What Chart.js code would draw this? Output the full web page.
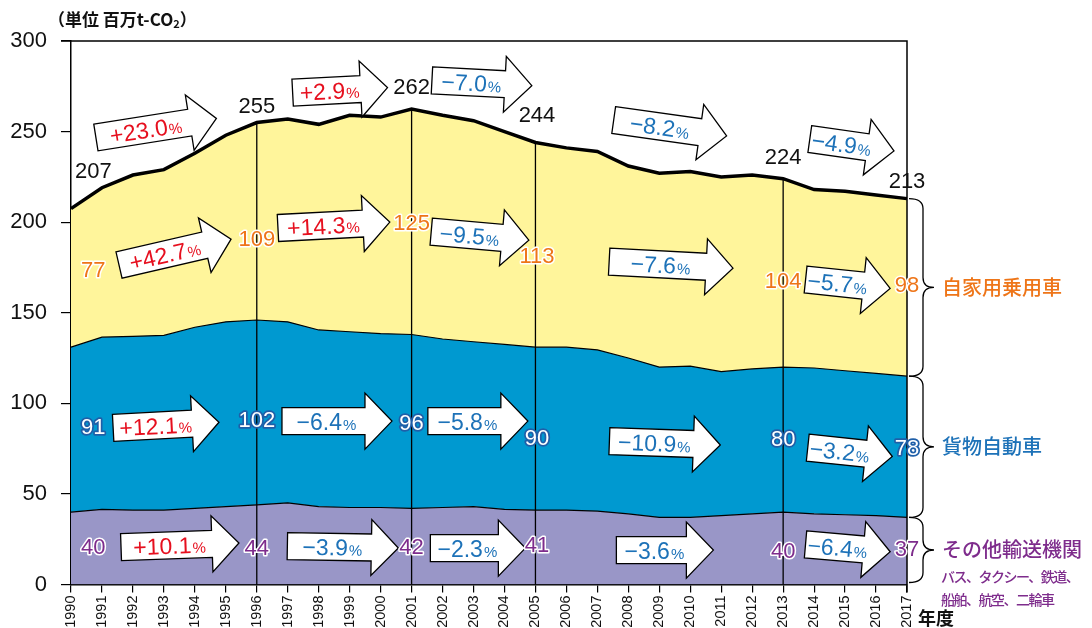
<!DOCTYPE html>
<html>
<head>
<meta charset="utf-8">
<script src="https://cdn.jsdelivr.net/npm/chart.js@4.4.1/dist/chart.umd.min.js"></script>
<style>
  html, body { margin: 0; padding: 0; background: #fff; }
  #wrap { width: 1092px; height: 628px; position: relative; }
</style>
</head>
<body>
<div id="wrap"><canvas id="chart" width="1092" height="628"></canvas></div>
<script>
// data (million t-CO2)
const years = ['1990','1991','1992','1993','1994','1995','1996','1997','1998','1999','2000','2001','2002','2003',
               '2004','2005','2006','2007','2008','2009','2010','2011','2012','2013','2014','2015','2016','2017'];
const otherTransport = [40, 41.5, 41, 41, 42, 43, 44, 45, 43, 42.5, 42.5, 42, 42.5, 43,
                        41.5, 41, 41, 40.5, 39, 37, 37, 38, 39, 40, 39, 38.5, 38, 37];
const freightTrucks  = [91, 95, 96, 96.5, 100, 102, 102, 100, 97.5, 97, 96, 96, 93, 91,
                        91, 90, 90, 89, 86, 83, 83.5, 79.5, 80, 80, 80.5, 79.5, 78.5, 78];
const privateCars    = [76.5, 82.5, 89, 91.5, 96, 103, 109, 112, 113.5, 119.5, 119.5, 124.5, 123.5, 122,
                        117.5, 113, 110, 109.5, 106, 107, 107.5, 107.5, 107, 104, 98.5, 99, 98.5, 98];

const keyYears      = [1990, 1996, 2001, 2005, 2013, 2017];
const totalLabels   = [207, 255, 262, 244, 224, 213];
const carLabels     = [77, 109, 125, 113, 104, 98];
const freightLabels = [91, 102, 96, 90, 80, 78];
const otherLabels   = [40, 44, 42, 41, 40, 37];

const totalChanges   = ['+23.0', '+2.9', '−7.0', '−8.2', '−4.9'];
const carChanges     = ['+42.7', '+14.3', '−9.5', '−7.6', '−5.7'];
const freightChanges = ['+12.1', '−6.4', '−5.8', '−10.9', '−3.2'];
const otherChanges   = ['+10.1', '−3.9', '−2.3', '−3.6', '−6.4'];

const yTicks = [0, 50, 100, 150, 200, 250, 300];

// colours / fonts
const YELLOW = '#FFF59B', BLUE = '#0099D0', PURPLE = '#9996C7';
const RED_TXT = '#E60F1E', BLUE_TXT = '#1D72B8', ORANGE_TXT = '#EE7518', PURPLE_TXT = '#7E2C8C';
const NUM = '"Liberation Sans", Arial, sans-serif';
const JP = '"Noto Sans CJK JP", sans-serif';

// where the arrows and numbers sit (year, value), not data
const arrowPlaces = {
  total:   [{x: 1992.75, y: 252.0, len: 122, a: -9}, {x: 1998.69, y: 272.9, len: 95, a: -3},
            {x: 2003.27, y: 276.8, len: 100, a: 3},  {x: 2009.35, y: 252.0, len: 114, a: 8},
            {x: 2015.22, y: 242.6, len: 85, a: 8}],
  car:     [{x: 1993.36, y: 183.5, len: 115, a: -13}, {x: 1998.49, y: 198.4, len: 112, a: -3},
            {x: 2003.21, y: 192.4, len: 98, a: 5},    {x: 2009.38, y: 176.4, len: 124, a: 3},
            {x: 2015.09, y: 165.9, len: 85, a: 6}],
  freight: [{x: 1993.07, y: 88.0, len: 106, a: -3}, {x: 1998.59, y: 90.2, len: 110, a: 0},
            {x: 2003.14, y: 90.2, len: 100, a: 0},  {x: 2009.18, y: 78.1, len: 111, a: 2},
            {x: 2015.16, y: 73.1, len: 85, a: 6}],
  other:   [{x: 1993.52, y: 21.8, len: 118, a: -2}, {x: 1998.78, y: 20.7, len: 111, a: 1},
            {x: 2003.14, y: 20.1, len: 95, a: 0},   {x: 2009.18, y: 19.0, len: 97, a: 0},
            {x: 2015.09, y: 20.1, len: 85, a: 5}]
};
const labelX = [1990.72, 1996, 2001, 2005.05, 2013, 2017];
const labelY = {
  total:   [227.7, 263.6, 274.1, 258.6, 235.4, 222.2],
  car:     [173.0, 190.2, 199.0, 180.8, 167.0, 164.9],
  freight: [86.4, 90.2, 88.6, 80.3, 79.8, 74.8],
  other:   [20.1, 19.6, 20.1, 21.3, 17.9, 19.0]
};

function drawArrow(ctx, cx, cy, len, angle, text, color) {
  const headLen = 27, bodyH = 13.5, headH = 28;
  ctx.save();
  ctx.translate(cx, cy);
  ctx.rotate(angle * Math.PI / 180);
  const l = -len / 2, r = len / 2, hb = r - headLen;
  ctx.beginPath();
  ctx.moveTo(l, -bodyH);
  ctx.lineTo(hb, -bodyH);
  ctx.lineTo(hb, -headH);
  ctx.lineTo(r, 0);
  ctx.lineTo(hb, headH);
  ctx.lineTo(hb, bodyH);
  ctx.lineTo(l, bodyH);
  ctx.closePath();
  ctx.fillStyle = '#fff';
  ctx.fill();
  ctx.lineWidth = 1.3;
  ctx.strokeStyle = '#000';
  ctx.lineJoin = 'miter';
  ctx.stroke();
  // number + small percent sign
  ctx.font = '23px ' + NUM;
  const w1 = ctx.measureText(text).width;
  ctx.font = '15px ' + NUM;
  const w2 = ctx.measureText('%').width;
  const tx = (l + hb) / 2 - (w1 + w2 + 1) / 2 + 3;
  ctx.fillStyle = color;
  ctx.textBaseline = 'alphabetic';
  ctx.textAlign = 'left';
  ctx.font = '23px ' + NUM;
  ctx.fillText(text, tx, 8.5);
  ctx.font = '15px ' + NUM;
  ctx.fillText('%', tx + w1 + 1, 8.5);
  ctx.restore();
}

function outlined(ctx, text, x, y, fill, stroke, lw) {
  ctx.save();
  ctx.font = '22px ' + NUM;
  ctx.textAlign = 'center';
  ctx.textBaseline = 'middle';
  if (stroke) {
    ctx.lineWidth = lw;
    ctx.strokeStyle = stroke;
    ctx.lineJoin = 'round';
    ctx.strokeText(text, x, y);
  }
  ctx.fillStyle = fill;
  ctx.fillText(text, x, y);
  ctx.restore();
}

function brace(ctx, x0, y1, y2) {
  const x1 = x0 + 14, x2 = x0 + 25;
  const ym = (y1 + y2) / 2;
  const r = Math.min(10, (y2 - y1) / 4);
  ctx.beginPath();
  ctx.moveTo(x0, y1);
  ctx.quadraticCurveTo(x1, y1, x1, y1 + r);
  ctx.lineTo(x1, ym - r);
  ctx.quadraticCurveTo(x1, ym, x2, ym);
  ctx.quadraticCurveTo(x1, ym, x1, ym + r);
  ctx.lineTo(x1, y2 - r);
  ctx.quadraticCurveTo(x1, y2, x0, y2);
  ctx.lineWidth = 1.3;
  ctx.strokeStyle = '#000';
  ctx.stroke();
}

const overlay = {
  id: 'overlay',
  afterDatasetsDraw(chart) {
    const ctx = chart.ctx;
    const xs = chart.scales.x, ys = chart.scales.y;
    const a = chart.chartArea;
    const x0 = xs.getPixelForValue(0), step = xs.getPixelForValue(1) - x0;
    const px = yr => x0 + (yr - 1990) * step;
    const py = v => ys.getPixelForValue(v);

    // frame top and right
    ctx.save();
    ctx.strokeStyle = '#000';
    ctx.lineWidth = 1.5;
    ctx.beginPath();
    ctx.moveTo(a.left - 10, a.top);
    ctx.lineTo(a.right, a.top);
    ctx.lineTo(a.right, a.bottom + 8);
    ctx.stroke();

    // vertical guide lines at key years
    ctx.lineWidth = 1.3;
    keyYears.slice(1, 5).forEach(yr => {
      const i = yr - 1990;
      const top = otherTransport[i] + freightTrucks[i] + privateCars[i];
      ctx.beginPath();
      ctx.moveTo(px(yr), a.bottom);
      ctx.lineTo(px(yr), py(top));
      ctx.stroke();
    });
    ctx.restore();

    // arrows
    const rows = [['total', totalChanges], ['car', carChanges], ['freight', freightChanges], ['other', otherChanges]];
    rows.forEach(([key, texts]) => {
      arrowPlaces[key].forEach((p, i) => {
        const col = texts[i].startsWith('+') ? RED_TXT : BLUE_TXT;
        drawArrow(ctx, px(p.x), py(p.y), p.len, p.a, texts[i], col);
      });
    });

    // key-year values
    keyYears.forEach((yr, i) => {
      const x = px(labelX[i]);
      outlined(ctx, String(totalLabels[i]), x, py(labelY.total[i]), '#111', null, 0);
      outlined(ctx, String(carLabels[i]), x, py(labelY.car[i]), ORANGE_TXT, '#fff', 3);
      outlined(ctx, String(freightLabels[i]), x, py(labelY.freight[i]), '#fff', '#1F5FA8', 3.5);
      outlined(ctx, String(otherLabels[i]), x, py(labelY.other[i]), PURPLE_TXT, '#fff', 3);
    });

    // braces + series names
    const last = years.length - 1;
    const b0 = py(0), b1 = py(otherTransport[last]);
    const b2 = py(otherTransport[last] + freightTrucks[last]);
    const b3 = py(otherTransport[last] + freightTrucks[last] + privateCars[last]);
    const bx = a.right + 2;
    brace(ctx, bx, b3, b2);
    brace(ctx, bx, b2, b1);
    brace(ctx, bx, b1, b0 - 2);

    ctx.save();
    ctx.textAlign = 'left';
    ctx.textBaseline = 'middle';
    ctx.font = '500 20px ' + JP;
    ctx.fillStyle = ORANGE_TXT;
    ctx.fillText('自家用乗用車', bx + 33, (b3 + b2) / 2);
    ctx.fillStyle = BLUE_TXT;
    ctx.fillText('貨物自動車', bx + 33, (b2 + b1) / 2);
    ctx.fillStyle = PURPLE_TXT;
    ctx.fillText('その他輸送機関', bx + 33, (b1 + b0) / 2 - 2);
    ctx.font = '500 14px ' + JP;
    ctx.letterSpacing = '-1.5px';
    ctx.fillText('バス、タクシー、鉄道、', bx + 32, 577);
    ctx.fillText('船舶、航空、二輪車', bx + 32, 600);
    ctx.letterSpacing = '0px';

    // unit + axis title
    ctx.fillStyle = '#111';
    ctx.font = 'bold 18px ' + JP;
    ctx.fillText('年度', 918, 618);
    ctx.font = 'bold 17px ' + JP;
    ctx.textBaseline = 'alphabetic';
    let tx = 48;
    const head = '（単位 百万t-CO';
    ctx.fillText(head, tx, 26);
    tx += ctx.measureText(head).width;
    ctx.font = 'bold 11px ' + JP;
    ctx.fillText('2', tx, 28);
    tx += ctx.measureText('2').width;
    ctx.font = 'bold 17px ' + JP;
    ctx.fillText('）', tx, 26);
    ctx.restore();
  }
};

new Chart(document.getElementById('chart').getContext('2d'), {
  type: 'line',
  data: {
    labels: years,
    datasets: [
      { label: 'その他輸送機関', data: otherTransport, fill: 'origin', backgroundColor: PURPLE,
        borderColor: '#000', borderWidth: 1.2, pointRadius: 0, tension: 0 },
      { label: '貨物自動車', data: freightTrucks, fill: '-1', backgroundColor: BLUE,
        borderColor: '#000', borderWidth: 1.2, pointRadius: 0, tension: 0 },
      { label: '自家用乗用車', data: privateCars, fill: '-1', backgroundColor: YELLOW,
        borderColor: '#000', borderWidth: 3.5, pointRadius: 0, tension: 0 }
    ]
  },
  options: {
    responsive: false,
    animation: false,
    layout: { padding: { top: 41, right: 185, left: 0, bottom: 0 } },
    plugins: { legend: { display: false }, tooltip: { enabled: false } },
    scales: {
      x: {
        offset: false,
        grid: { drawOnChartArea: false, tickLength: 8, color: '#000', lineWidth: 1.2 },
        border: { color: '#000', width: 1.5 },
        ticks: { color: '#111', font: { family: NUM, size: 14.5 }, maxRotation: 90, minRotation: 90,
                 autoSkip: false, padding: 3 },
        afterFit: s => { s.height = 43.5; }
      },
      y: {
        stacked: true,
        min: 0, max: 300,
        afterBuildTicks: s => { s.ticks = yTicks.map(v => ({ value: v })); },
        grid: { drawOnChartArea: false, tickLength: 10, color: '#000', lineWidth: 1.2 },
        border: { color: '#000', width: 1.5 },
        ticks: { color: '#111', font: { family: NUM, size: 22 }, padding: 14 },
        afterFit: s => { s.width = 71; }
      }
    }
  },
  plugins: [overlay]
});
</script>
</body>
</html>
